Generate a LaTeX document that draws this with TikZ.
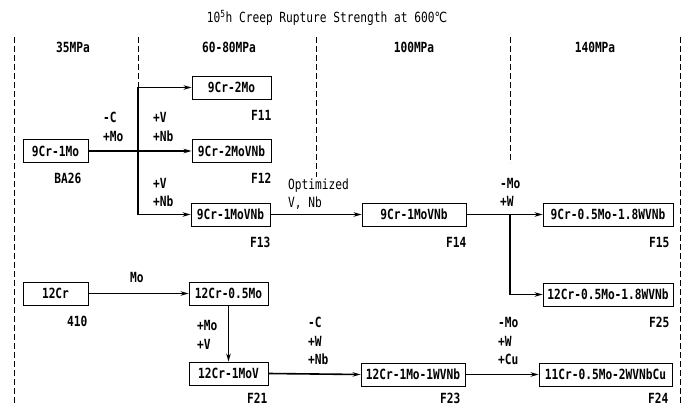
\documentclass[tikz,border=0pt]{standalone}
\usepackage{fontspec}
\setmainfont{DejaVu Sans Mono}[FakeStretch=0.8]
\newfontfamily\symfont{DejaVu Sans}[FakeStretch=0.8]
\usetikzlibrary{arrows.meta}
\begin{document}
\begin{tikzpicture}[x=1pt,y=-1pt,
  box/.style={draw, line width=0.9pt, minimum height=23pt, inner sep=0pt, font=\fontsize{14}{16}\selectfont\bfseries},
  lbl/.style={inner sep=0pt, font=\fontsize{14}{18.5}\selectfont\bfseries, align=left},
  tag/.style={inner sep=0pt, font=\fontsize{14}{16}\selectfont\bfseries, anchor=base east},
  conn/.style={line width=1.6pt, -{Stealth[length=8pt,width=4.5pt]}},
  divider/.style={line width=0.9pt, dash pattern=on 6pt off 3pt}]
\useasboundingbox (0,0) rectangle (691,406);
% title and headers
\node[lbl, font=\fontsize{14}{18.5}\selectfont] (title) at (327,18) {10\textsuperscript{5}h Creep Rupture Strength at 600{\symfont ℃}};
\node[lbl] (h1) at (73,47) {35MPa};
\node[lbl] (h2) at (229,47) {60-80MPa};
\node[lbl] (h3) at (414,47) {100MPa};
\node[lbl] (h4) at (595,47) {140MPa};
% boxes
\node[box, minimum width=65pt] (ba26) at (55.5,151) {9Cr-1Mo};
\node[box, minimum width=79pt] (f11) at (231.5,87.5) {9Cr-2Mo};
\node[box, minimum width=79pt] (f12) at (231.5,151) {9Cr-2MoVNb};
\node[box, minimum width=79pt] (f13) at (230.5,214.5) {9Cr-1MoVNb};
\node[box, minimum width=104pt] (f14) at (414,214.5) {9Cr-1MoVNb};
\node[box, minimum width=130pt] (f15) at (608,214.5) {9Cr-0.5Mo-1.8WVNb};
\node[box, minimum width=130pt] (f25) at (608,294.5) {12Cr-0.5Mo-1.8WVNb};
\node[box, minimum width=65pt] (c410) at (55.5,293.5) {12Cr};
\node[box, minimum width=79pt] (m05) at (228.5,293.5) {12Cr-0.5Mo};
\node[box, minimum width=79pt] (f21) at (228.5,373.5) {12Cr-1MoV};
\node[box, minimum width=104pt] (f23) at (413,374.5) {12Cr-1Mo-1WVNb};
\node[box, minimum width=133pt] (f24) at (605.5,374.5) {11Cr-0.5Mo-2WVNbCu};
% tags
\node[tag] (tf11) at ([yshift=-21pt]f11.south east) {F11};
\node[tag] (tf12) at ([yshift=-21pt]f12.south east) {F12};
\node[tag] (tf13) at ([yshift=-21pt]f13.south east) {F13};
\node[tag] (tf14) at ([yshift=-21pt]f14.south east) {F14};
\node[tag] (tf15) at ([xshift=-4pt,yshift=-21pt]f15.south east) {F15};
\node[tag] (tf25) at ([xshift=-4pt,yshift=-21pt]f25.south east) {F25};
\node[tag] (tba26) at ([xshift=-7pt,yshift=-21pt]ba26.south east) {BA26};
\node[tag] (t410) at ([xshift=-1pt,yshift=-21pt]c410.south east) {410};
\node[tag] (tf21) at ([xshift=-1pt,yshift=-18pt]f21.south east) {F21};
\node[tag] (tf23) at ([xshift=-5pt,yshift=-17pt]f23.south east) {F23};
\node[tag] (tf24) at ([xshift=-4pt,yshift=-17pt]f24.south east) {F24};
% dividers
\coordinate (jx) at (138,0);
\coordinate (jy) at (510,0);
\draw[divider] (14,37) -- (14,406);
\draw[divider] (138,37) -- (jx |- f11.west);
\draw[divider] (316,37) -- (316,177);
\draw[divider] (510,37) -- (510,163);
\draw[divider] (680,37) -- (680,406);
% connectors
\draw[conn] (ba26.east) -- (f12.west);
\draw[conn] (jx |- f11.west) -- (f11.west);
\draw[conn, line join=miter] (jx |- f11.west) |- (f13.west);
\draw[conn] (f13.east) -- (f14.west);
\draw[conn] (f14.east) -- (f15.west);
\draw[conn] (jy |- f15.west) |- (f25.west);
\draw[conn] (c410.east) -- (m05.west);
\draw[conn] (m05.south) -- (f21.north);
\draw[conn] (f21.east) -- (f23.west);
\draw[conn] (f23.east) -- (f24.west);
% connector labels
\node[lbl, anchor=west] (l1) at (103,127) {-C\\+Mo};
\node[lbl, anchor=west] (l2) at (153,127) {+V\\+Nb};
\node[lbl, anchor=west] (l3) at (153,192.5) {+V\\+Nb};
\node[lbl, anchor=west, font=\fontsize{14}{18.5}\selectfont] (l4) at (288,194) {Optimized\\V, Nb};
\node[lbl, anchor=west] (l5) at (500,192.5) {-Mo\\+W};
\node[lbl, anchor=west] (l6) at (130,277) {Mo};
\node[lbl, anchor=west] (l7) at (197,335) {+Mo\\+V};
\node[lbl, anchor=west] (l8) at (308,341) {-C\\+W\\+Nb};
\node[lbl, anchor=west] (l9) at (498,341) {-Mo\\+W\\+Cu};
\end{tikzpicture}
\end{document}
